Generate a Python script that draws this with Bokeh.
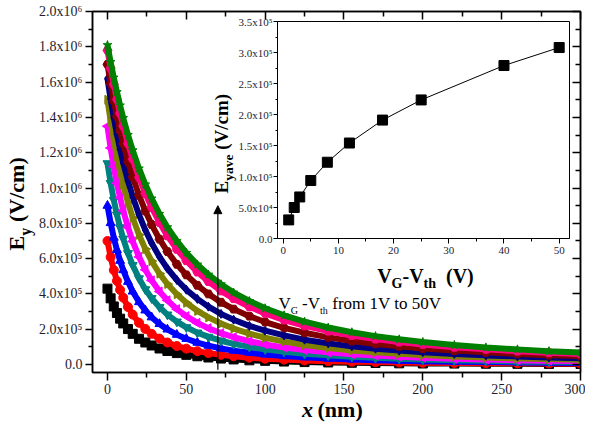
from math import pi
from bokeh.plotting import figure
from bokeh.models import (Range1d, FixedTicker, LinearAxis, Label, Arrow,
                          NormalHead, ColumnDataSource)
from bokeh.embed import file_html
from bokeh.resources import INLINE

# ---------------- data (main plot: Ey in units of 1e6 V/cm) ----------------
x_nm = [0, 2, 4, 6, 8, 10, 13, 16, 20, 24, 28, 33, 38, 44, 50, 57, 64, 72, 80,
        90, 100, 112, 125, 140, 155, 170, 185, 200, 220, 240, 260, 280, 300]

ey_1V = [0.430, 0.375, 0.329, 0.292, 0.260, 0.233, 0.201, 0.174, 0.146, 0.125, 0.108,
         0.091, 0.077, 0.065, 0.055, 0.047, 0.040, 0.034, 0.029, 0.024, 0.021, 0.017,
         0.014, 0.012, 0.010, 0.009, 0.007, 0.006, 0.0055, 0.0047, 0.0041, 0.0036, 0.0031]
ey_2V = [0.700, 0.609, 0.535, 0.474, 0.423, 0.379, 0.326, 0.283, 0.237, 0.202, 0.174,
         0.147, 0.125, 0.105, 0.090, 0.076, 0.065, 0.055, 0.047, 0.039, 0.033, 0.028,
         0.023, 0.019, 0.016, 0.014, 0.012, 0.010, 0.009, 0.008, 0.007, 0.006, 0.005]
ey_3V = [0.900, 0.802, 0.719, 0.649, 0.588, 0.535, 0.469, 0.414, 0.354, 0.307, 0.268,
         0.230, 0.199, 0.169, 0.146, 0.124, 0.107, 0.091, 0.079, 0.067, 0.057, 0.048,
         0.041, 0.034, 0.029, 0.025, 0.021, 0.019, 0.016, 0.014, 0.012, 0.010, 0.009]
ey_5V = [1.140, 1.028, 0.932, 0.849, 0.777, 0.713, 0.631, 0.563, 0.488, 0.426, 0.376,
         0.325, 0.283, 0.243, 0.211, 0.181, 0.157, 0.135, 0.117, 0.100, 0.086, 0.073,
         0.061, 0.052, 0.044, 0.038, 0.033, 0.029, 0.025, 0.021, 0.018, 0.016, 0.014]
ey_8V = [1.350, 1.227, 1.121, 1.027, 0.945, 0.872, 0.778, 0.698, 0.610, 0.537, 0.477,
         0.414, 0.364, 0.314, 0.274, 0.236, 0.206, 0.178, 0.155, 0.132, 0.114, 0.097,
         0.082, 0.069, 0.059, 0.051, 0.044, 0.039, 0.033, 0.029, 0.025, 0.022, 0.020]
ey_12V = [1.500, 1.379, 1.273, 1.178, 1.093, 1.018, 0.918, 0.832, 0.735, 0.654, 0.586,
          0.515, 0.456, 0.398, 0.350, 0.304, 0.267, 0.232, 0.204, 0.175, 0.152, 0.130,
          0.111, 0.094, 0.080, 0.070, 0.061, 0.054, 0.046, 0.040, 0.035, 0.031, 0.027]
ey_18V = [1.620, 1.503, 1.398, 1.304, 1.219, 1.142, 1.040, 0.951, 0.849, 0.762, 0.688,
          0.610, 0.544, 0.479, 0.424, 0.372, 0.328, 0.287, 0.254, 0.219, 0.192, 0.165,
          0.141, 0.120, 0.103, 0.090, 0.079, 0.070, 0.060, 0.052, 0.046, 0.040, 0.036]
ey_25V = [1.700, 1.593, 1.495, 1.406, 1.325, 1.251, 1.150, 1.062, 0.959, 0.870, 0.793,
          0.710, 0.640, 0.568, 0.508, 0.449, 0.400, 0.353, 0.314, 0.274, 0.241, 0.208,
          0.180, 0.154, 0.133, 0.117, 0.103, 0.091, 0.079, 0.069, 0.060, 0.053, 0.048]
ey_40V = [1.780, 1.679, 1.587, 1.502, 1.423, 1.351, 1.252, 1.164, 1.060, 0.969, 0.890,
          0.804, 0.729, 0.653, 0.588, 0.524, 0.470, 0.417, 0.373, 0.327, 0.290, 0.252,
          0.219, 0.189, 0.164, 0.144, 0.127, 0.114, 0.098, 0.086, 0.076, 0.067, 0.060]
ey_50V = [1.810, 1.714, 1.626, 1.544, 1.468, 1.397, 1.301, 1.214, 1.111, 1.021, 0.941,
          0.854, 0.778, 0.700, 0.633, 0.567, 0.510, 0.455, 0.408, 0.360, 0.319, 0.279,
          0.243, 0.210, 0.183, 0.161, 0.143, 0.128, 0.111, 0.097, 0.086, 0.076, 0.068]

series_values = [ey_1V, ey_2V, ey_3V, ey_5V, ey_8V, ey_12V, ey_18V, ey_25V, ey_40V, ey_50V]
series_colors = ["#000000", "#ff0000", "#0000ff", "#008080", "#ff00ff",
                 "#808000", "#000080", "#800000", "#ff0080", "#008000"]
series_markers = ["square", "circle", "triangle", "inverted_triangle", "triangle",
                  "triangle", "diamond", "hex", "hex", "star"]
series_angles = [0, 0, 0, 0, pi / 2, -pi / 2, 0, 0, 0, 0]

main_xticks = [0, 50, 100, 150, 200, 250, 300]
main_xminor = [25, 75, 125, 175, 225, 275]
main_yticks = [0, 200000, 400000, 600000, 800000, 1000000, 1200000, 1400000,
               1600000, 1800000, 2000000]
main_yminor = [100000, 300000, 500000, 700000, 900000, 1100000, 1300000,
               1500000, 1700000, 1900000]
main_ytick_labels = ["0.0", "2.0x10⁵", "4.0x10⁵", "6.0x10⁵", "8.0x10⁵", "1.0x10⁶",
                     "1.2x10⁶", "1.4x10⁶", "1.6x10⁶", "1.8x10⁶", "2.0x10⁶"]

arrow_x = 70
arrow_y_start = -30000
arrow_y_end = 900000

# ---------------- data (inset) ----------------
vg_minus_vth = [1, 2, 3, 5, 8, 12, 18, 25, 40, 50]
ey_ave = [30000, 50000, 67000, 93500, 123000, 154000, 191000, 223500, 279000, 308000]

inset_xticks = [0, 10, 20, 30, 40, 50]
inset_xminor = [5, 15, 25, 35, 45]
inset_yticks = [0, 50000, 100000, 150000, 200000, 250000, 300000, 350000]
inset_yminor = [25000, 75000, 125000, 175000, 225000, 275000, 325000]
inset_ytick_labels = ["0.0", "5.0x10⁴", "1.0x10⁵", "1.5x10⁵", "2.0x10⁵",
                      "2.5x10⁵", "3.0x10⁵", "3.5x10⁵"]

SERIF = "Liberation Serif"
TICKC = "#1e1e30"


def styled_axis(ticks, minor, tick_out, tick_in, minor_out, minor_in, font_size,
                standoff, overrides=None, show=True, lw=1.5):
    ax = LinearAxis(ticker=FixedTicker(ticks=ticks, minor_ticks=minor))
    ax.axis_line_width = lw
    ax.axis_line_color = "black"
    ax.major_tick_line_width = lw
    ax.minor_tick_line_width = lw
    ax.major_tick_line_color = "black"
    ax.minor_tick_line_color = "black"
    ax.major_tick_out = tick_out
    ax.major_tick_in = tick_in
    ax.minor_tick_out = minor_out
    ax.minor_tick_in = minor_in
    ax.major_label_text_font = SERIF
    ax.major_label_text_color = TICKC
    ax.major_label_standoff = standoff
    if show:
        ax.major_label_text_font_size = font_size
        if overrides:
            ax.major_label_overrides = overrides
    else:
        ax.major_label_text_font_size = "0px"
        ax.major_label_overrides = {t: "" for t in ticks}
    return ax


# ---------------- main figure (frame: page x 92..580, y 11..372) ----------------
p = figure(width=585, height=416, x_range=Range1d(-9.5, 300),
           y_range=Range1d(-45000, 2000000),
           x_axis_type=None, y_axis_type=None, output_backend="svg",
           toolbar_location=None, min_border_left=92, min_border_right=5,
           min_border_top=11, min_border_bottom=44)
p.outline_line_color = "black"
p.outline_line_width = 1.5
p.background_fill_color = "white"
p.border_fill_color = "white"

ylabels = dict(zip(main_yticks, main_ytick_labels))
p.add_layout(styled_axis(main_xticks, main_xminor, 8, 0, 5, 0, "14px", 3), "below")
p.add_layout(styled_axis(main_yticks, main_yminor, 7, 0, 4, 0, "14px", 3, ylabels), "left")
p.add_layout(styled_axis(main_xticks, main_xminor, 0, 8, 0, 5, "0px", 0, show=False), "above")
p.add_layout(styled_axis(main_yticks, main_yminor, 0, 8, 0, 5, "0px", 0, show=False), "right")

for vals, col, mk, ang in zip(series_values, series_colors, series_markers, series_angles):
    src = ColumnDataSource(dict(x=x_nm, y=[v * 1e6 for v in vals]))
    p.line("x", "y", source=src, line_color=col, line_width=6)
    p.scatter("x", "y", source=src, marker=mk, angle=ang, size=9,
              fill_color=col, line_color=col)

p.add_layout(Arrow(end=NormalHead(size=8, fill_color="black", line_color="black", line_width=1),
                   x_start=arrow_x, y_start=arrow_y_start, x_end=arrow_x, y_end=arrow_y_end,
                   line_width=1.2, line_color="black"))

# ---------------- inset figure (frame: page x 277..569, y 21..238) ----------------
inset = figure(width=370, height=280, x_range=Range1d(-1.03, 51.87),
               y_range=Range1d(0, 350000),
               x_axis_type=None, y_axis_type=None, output_backend="svg",
               toolbar_location=None, min_border_left=72, min_border_right=6,
               min_border_top=7, min_border_bottom=56,
               styles={"position": "absolute", "left": "205px", "top": "14px"})
inset.outline_line_color = "black"
inset.outline_line_width = 1
inset.background_fill_color = "white"
inset.border_fill_color = None

iylabels = dict(zip(inset_yticks, inset_ytick_labels))
inset.add_layout(styled_axis(inset_xticks, inset_xminor, 5, 0, 3, 0, "11px", 3, lw=1), "below")
inset.add_layout(styled_axis(inset_yticks, inset_yminor, 4, 0, 2, 0, "11px", 1, iylabels, lw=1), "left")

isrc = ColumnDataSource(dict(x=vg_minus_vth, y=ey_ave))
inset.line("x", "y", source=isrc, line_color="black", line_width=1)
inset.scatter("x", "y", source=isrc, marker="square", size=10,
              fill_color="black", line_color="black")

# ---------------- transparent text layer (x = page px, y = TH - page px) ----------------
TW, TH = 590, 425
texts = figure(width=TW, height=TH, x_range=Range1d(0, TW), y_range=Range1d(0, TH),
               x_axis_type=None, y_axis_type=None, output_backend="svg",
               toolbar_location=None, min_border=0, min_border_left=0,
               min_border_right=0, min_border_top=0, min_border_bottom=0,
               styles={"position": "absolute", "left": "0px", "top": "0px"})
texts.background_fill_color = None
texts.border_fill_color = None
texts.outline_line_color = None


def lab(x, y, text, size, style="bold", angle=0.0, color="black"):
    # (x, y) = page position of the left end / vertical middle of the text
    texts.add_layout(Label(x=x, y=TH - y, text=text, angle=angle, text_font=SERIF,
                           text_font_size=size, text_font_style=style,
                           text_color=color, text_align="left",
                           text_baseline="middle"))


# main y title  E_y (V/cm)
lab(16, 250, "E", "22px", angle=pi / 2)
lab(24.5, 235.3, "y", "16px", angle=pi / 2)
lab(16, 221.5, "(V/cm)", "22px", angle=pi / 2)
# main x title  x (nm)
lab(301.5, 409, "x", "22px", style="bold italic")
lab(317, 409, "(nm)", "22px")
# annotation  V_G -V_th from 1V to 50V
lab(278, 302.5, "V", "17px", style="normal")
lab(290.3, 310, "G", "10px", style="normal")
lab(301.5, 302.5, "-V", "17px", style="normal")
lab(319.5, 310, "th", "10px", style="normal")
lab(331.8, 302.5, "from 1V to 50V", "17px", style="normal")
# inset y title  E_yave (V/cm)
lab(221, 193, "E", "19px", angle=pi / 2)
lab(227.5, 180.3, "yave", "13.5px", angle=pi / 2)
lab(221, 149.3, "(V/cm)", "19px", angle=pi / 2)
# inset x title  V_G-V_th  (V)
lab(376.7, 275.5, "V", "20px")
lab(391.1, 282.5, "G", "14px")
lab(402, 275.5, "-V", "20px")
lab(423.1, 282.5, "th", "14px")
lab(445.5, 275.5, "(V)", "20px")

open("out.html", "w").write(file_html([p, inset, texts], INLINE))
